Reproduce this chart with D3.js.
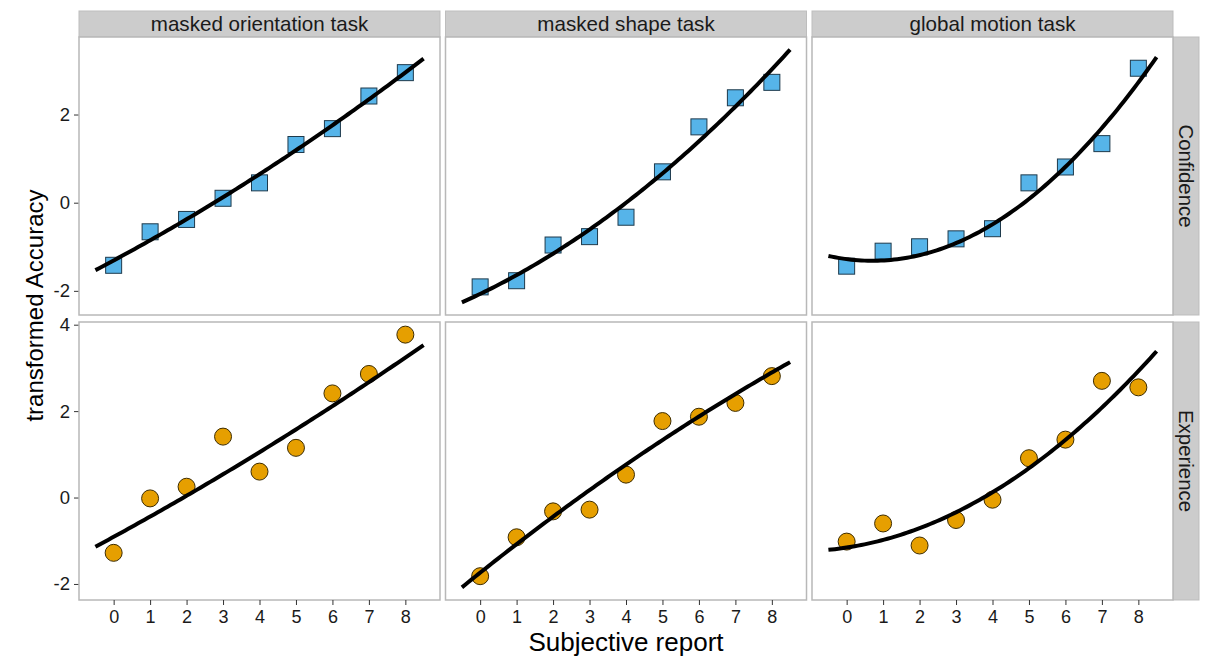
<!DOCTYPE html>
<html>
<head>
<meta charset="utf-8">
<script src="https://cdn.jsdelivr.net/npm/d3@7"></script>
<style>
  html, body { margin: 0; padding: 0; background: #fff; }
  svg { display: block; font-family: "Liberation Sans", Arial, Helvetica, sans-serif; }
</style>
</head>
<body>
<svg id="chart" width="1209" height="659"></svg>
<script>
// Facet labels
const tasks = ["masked orientation task", "masked shape task", "global motion task"];
const reportTypes = ["Confidence", "Experience"];

// Subjective report levels (x axis) and y tick labels per row
const reportLevels = [0, 1, 2, 3, 4, 5, 6, 7, 8];
const yTicksConfidence = [-2, 0, 2];
const yTicksExperience = [-2, 0, 2, 4];

// Transformed accuracy per report level
const confOrientation = [-1.42, -0.66, -0.38, 0.10, 0.45, 1.32, 1.68, 2.42, 2.95];
const confShape       = [-1.91, -1.77, -0.96, -0.77, -0.33, 0.70, 1.72, 2.38, 2.73];
const confMotion      = [-1.44, -1.10, -1.00, -0.82, -0.59, 0.45, 0.81, 1.34, 3.05];
const expOrientation  = [-1.28, -0.02, 0.25, 1.41, 0.60, 1.15, 2.41, 2.86, 3.77];
const expShape        = [-1.82, -0.92, -0.32, -0.28, 0.53, 1.77, 1.87, 2.19, 2.81];
const expMotion       = [-1.02, -0.60, -1.11, -0.52, -0.05, 0.91, 1.34, 2.70, 2.55];

// Quadratic model fits: [intercept, linear, quadratic]
const fitConfOrientation = [-1.31, 0.445, 0.011];
const fitConfShape       = [-2.07, 0.397, 0.030];
const fitConfMotion      = [-1.28, -0.107, 0.076];
const fitExpOrientation  = [-0.91, 0.461, 0.0072];
const fitExpShape        = [-1.74, 0.672, -0.0116];
const fitExpMotion       = [-1.158, 0.129, 0.0477];
const fitRange = [-0.5, 8.5];

const rows = [
  { label: reportTypes[0], ticks: yTicksConfidence, shape: "square", fill: "#56B4E9",
    series: [confOrientation, confShape, confMotion],
    fits: [fitConfOrientation, fitConfShape, fitConfMotion] },
  { label: reportTypes[1], ticks: yTicksExperience, shape: "circle", fill: "#E69F00",
    series: [expOrientation, expShape, expMotion],
    fits: [fitExpOrientation, fitExpShape, fitExpMotion] }
];

// Layout
const panelLeft = 79, panelW = 361, colGap = 5.5;
const stripTop = 11, stripH = 26;
const rowTops = [37, 322], panelH = 278;
const rightStripW = 26;

const svg = d3.select("#chart");
const evalFit = (c, x) => c[0] + c[1] * x + c[2] * x * x;
const curveXs = d3.range(0, 101).map(i => fitRange[0] + (fitRange[1] - fitRange[0]) * i / 100);
const plainNum = d => String(d);

// x scale shared across columns (5% expansion around the fit range)
const xSpan = fitRange[1] - fitRange[0];
const xDomain = [fitRange[0] - 0.05 * xSpan, fitRange[1] + 0.05 * xSpan];

const colX = i => panelLeft + i * (panelW + colGap);
const panelRight = colX(2) + panelW;

// Column strips
tasks.forEach((t, i) => {
  const g = svg.append("g").attr("transform", `translate(${colX(i)},${stripTop})`);
  g.append("rect").attr("width", panelW).attr("height", stripH)
    .attr("fill", "#cccccc").attr("stroke", "#bdbdbd").attr("stroke-width", 1);
  g.append("text").attr("x", panelW / 2).attr("y", stripH / 2 + 7)
    .attr("text-anchor", "middle").attr("font-size", 20.6).attr("fill", "#1a1a1a").text(t);
});

rows.forEach((row, r) => {
  const top = rowTops[r];
  // y range: data and fitted curves with 5% expansion
  const vals = [];
  row.series.forEach(s => vals.push(...s));
  row.fits.forEach(c => curveXs.forEach(x => vals.push(evalFit(c, x))));
  const [lo, hi] = d3.extent(vals);
  const pad = 0.05 * (hi - lo);
  const y = d3.scaleLinear().domain([lo - pad, hi + pad]).range([top + panelH, top]);

  // Row strip on the right
  const sg = svg.append("g").attr("transform", `translate(${panelRight},${top})`);
  sg.append("rect").attr("width", rightStripW).attr("height", panelH)
    .attr("fill", "#cccccc").attr("stroke", "#bdbdbd").attr("stroke-width", 1);
  sg.append("text").attr("transform", `translate(${rightStripW / 2 - 7},${panelH / 2}) rotate(90)`)
    .attr("text-anchor", "middle").attr("font-size", 20.4).attr("fill", "#1a1a1a").text(row.label);

  // y axis on the first column
  const yAxis = d3.axisLeft(y).tickValues(row.ticks).tickFormat(plainNum).tickSize(5).tickPadding(4);
  const ya = svg.append("g").attr("transform", `translate(${panelLeft},0)`).call(yAxis);
  ya.select(".domain").remove();
  ya.selectAll(".tick line").attr("stroke", "#333").attr("stroke-width", 1);
  ya.selectAll(".tick text").attr("font-size", 18.5).attr("fill", "#1a1a1a")
    .attr("font-family", "Liberation Sans, Arial, sans-serif");

  tasks.forEach((t, c) => {
    const x = d3.scaleLinear().domain(xDomain).range([colX(c), colX(c) + panelW]);
    const pg = svg.append("g");
    pg.append("rect").attr("x", colX(c)).attr("y", top).attr("width", panelW).attr("height", panelH)
      .attr("fill", "#fff").attr("stroke", "#b8b8b8").attr("stroke-width", 1.5);

    // Points
    const pts = reportLevels.map((lv, k) => ({ x: lv, y: row.series[c][k] }));
    if (row.shape === "square") {
      const s = 16;
      pg.selectAll("rect.pt").data(pts).enter().append("rect").attr("class", "pt")
        .attr("x", d => x(d.x) - s / 2).attr("y", d => y(d.y) - s / 2)
        .attr("width", s).attr("height", s)
        .attr("fill", row.fill).attr("stroke", "#1e3a4c").attr("stroke-width", 1);
    } else {
      pg.selectAll("circle.pt").data(pts).enter().append("circle").attr("class", "pt")
        .attr("cx", d => x(d.x)).attr("cy", d => y(d.y)).attr("r", 8.5)
        .attr("fill", row.fill).attr("stroke", "#3d2c00").attr("stroke-width", 1);
    }

    // Fitted curve
    const line = d3.line().x(d => x(d)).y(d => y(evalFit(row.fits[c], d))).curve(d3.curveLinear);
    pg.append("path").datum(curveXs).attr("d", line)
      .attr("fill", "none").attr("stroke", "#000").attr("stroke-width", 4)
      .attr("stroke-linecap", "butt");

    // x axis on the bottom row
    if (r === rows.length - 1) {
      const xAxis = d3.axisBottom(x).tickValues(reportLevels).tickFormat(plainNum)
        .tickSize(5).tickPadding(5);
      const xa = svg.append("g").attr("transform", `translate(0,${top + panelH})`).call(xAxis);
      xa.select(".domain").remove();
      xa.selectAll(".tick line").attr("stroke", "#333").attr("stroke-width", 1);
      xa.selectAll(".tick text").attr("font-size", 18).attr("fill", "#1a1a1a")
        .attr("font-family", "Liberation Sans, Arial, sans-serif");
    }
  });
});

// Axis titles
svg.append("text").attr("x", (panelLeft + panelRight) / 2).attr("y", 651)
  .attr("text-anchor", "middle").attr("font-size", 26).attr("fill", "#000").text("Subjective report");
svg.append("text")
  .attr("transform", `translate(43,${(stripTop + rowTops[1] + panelH) / 2}) rotate(-90)`)
  .attr("text-anchor", "middle").attr("font-size", 24).attr("fill", "#000").text("transformed Accuracy");
</script>
</body>
</html>
